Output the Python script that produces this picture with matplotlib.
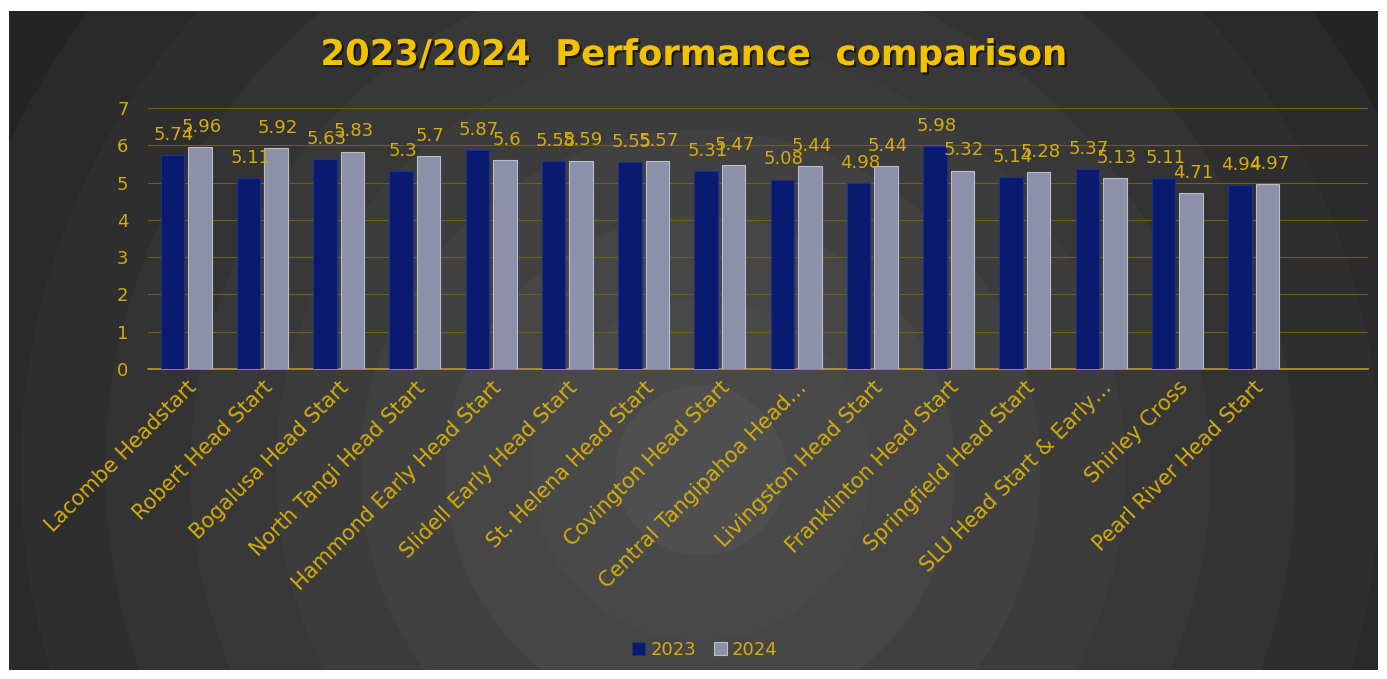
import numpy as np
import matplotlib.pyplot as plt
import matplotlib.patheffects as pe

categories = ["Lacombe Headstart", "Robert Head Start", "Bogalusa Head Start",
              "North Tangi Head Start", "Hammond Early Head Start",
              "Slidell Early Head Start", "St. Helena Head Start",
              "Covington Head Start", "Central Tangipahoa Head\u2026",
              "Livingston Head Start", "Franklinton Head Start",
              "Springfield Head Start", "SLU Head Start & Early\u2026",
              "Shirley Cross", "Pearl River Head Start"]
v2023 = [5.74, 5.11, 5.63, 5.3, 5.87, 5.58, 5.55, 5.31, 5.08, 4.98, 5.98, 5.14, 5.37, 5.11, 4.94]
v2024 = [5.96, 5.92, 5.83, 5.7, 5.6, 5.59, 5.57, 5.47, 5.44, 5.44, 5.32, 5.28, 5.13, 4.71, 4.97]

gold = "#d4ac0d"
W, H = 1387, 679
fig = plt.figure(figsize=(W / 100, H / 100), dpi=100)
fig.patch.set_facecolor("white")

# dark panel with faint concentric rings
x0, y0, x1, y1 = 9, 11, 1378, 670
bg = fig.add_axes([x0 / W, 1 - y1 / H, (x1 - x0) / W, (y1 - y0) / H])
yy, xx = np.mgrid[y0:y1, x0:x1]
r = np.hypot(xx - 700, yy - 470)
rings = np.floor(r / 85.0) * 85.0
shade = 0.31 - 0.17 * np.clip(rings / 800.0, 0, 1)
bg.imshow(shade, cmap="gray", vmin=0, vmax=1, aspect="auto", interpolation="bilinear")
bg.axis("off")

ax = fig.add_axes([148 / W, 1 - 369 / H, (1368 - 148) / W, (369 - 108) / H])
ax.patch.set_alpha(0)
x = np.arange(len(categories))
w = 0.31
b1 = ax.bar(x - 0.18, v2023, w, color="#0a1a6e", edgecolor="#1e3090", linewidth=0.8, label="2023", zorder=3)
b2 = ax.bar(x + 0.18, v2024, w, color="#8c90a8", edgecolor="#b8bcd0", linewidth=0.8, label="2024", zorder=3)
for xi, v in zip(x, v2023):
    ax.text(xi - 0.16, v + 0.3, f"{v:g}", ha="center", va="bottom", color=gold, fontsize=13, zorder=4)
for xi, v in zip(x, v2024):
    ax.text(xi + 0.2, v + 0.3, f"{v:g}", ha="center", va="bottom", color=gold, fontsize=13, zorder=4)

ax.set_xlim(-0.5, len(categories) + 0.5)
ax.set_ylim(0, 7)
ax.set_yticks(range(8))
ax.grid(axis="y", color="#6e5f1c", linewidth=0.8, zorder=0)
ax.set_xticks(x)
ax.set_xticklabels(categories, rotation=45, ha="right", rotation_mode="anchor", color=gold, fontsize=15)
ax.tick_params(axis="y", colors=gold, labelsize=13, length=0, pad=14)
ax.tick_params(axis="x", length=0, pad=6)
for s in ["top", "right", "left"]:
    ax.spines[s].set_visible(False)
ax.spines["bottom"].set_color("#b89a2a")
ax.spines["bottom"].set_linewidth(1.2)

fig.text(0.5, 1 - 55 / H, "2023/2024  Performance  comparison", ha="center", va="center",
         color="#f2c200", fontsize=25.5, fontweight="bold",
         path_effects=[pe.withSimplePatchShadow(offset=(1.5, -1.5), shadow_rgbFace="black", alpha=0.6)])

leg = fig.legend(handles=[b1, b2], loc="center", bbox_to_anchor=(705 / W, 1 - 650 / H), ncol=2,
                 frameon=False, fontsize=13, handlelength=0.7, handleheight=0.7, columnspacing=1.0,
                 handletextpad=0.3)
for t in leg.get_texts():
    t.set_color(gold)

fig.savefig("out.png", dpi=100)
